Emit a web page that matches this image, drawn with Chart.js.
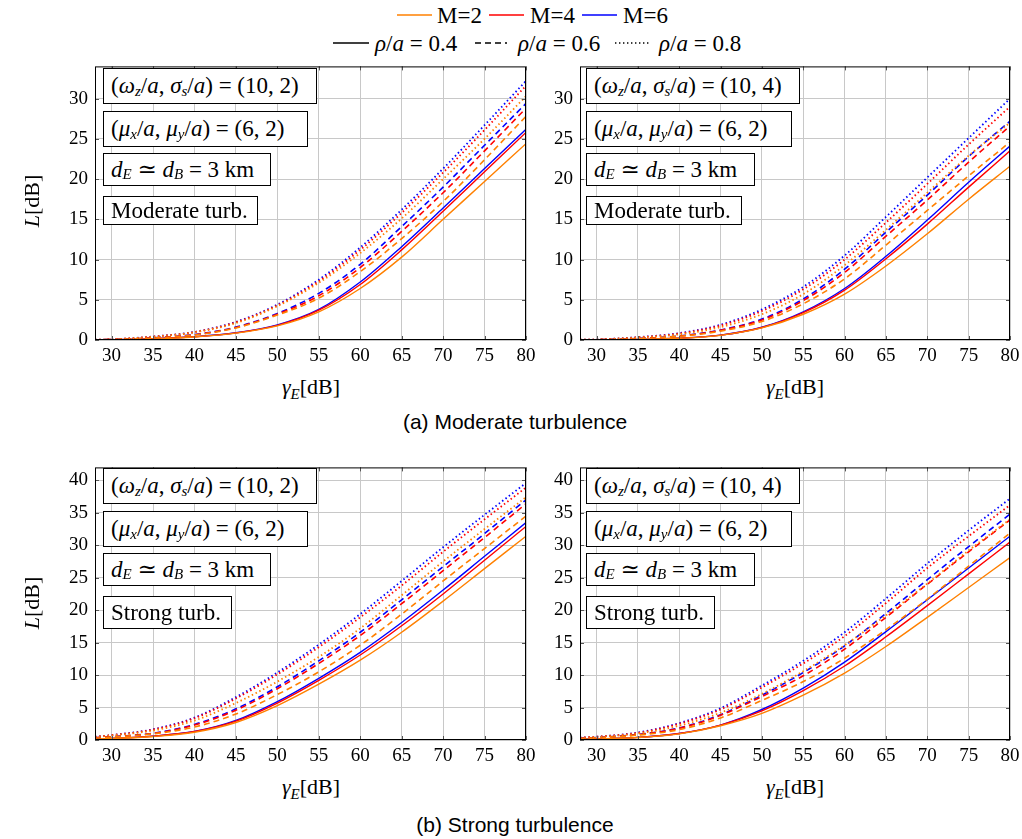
<!DOCTYPE html>
<html>
<head>
<meta charset="utf-8">
<script src="https://cdn.jsdelivr.net/npm/chart.js@4.4.0/dist/chart.umd.min.js"></script>
<style>
  body { margin: 0; width: 1022px; height: 839px; position: relative; background: #fff; overflow: hidden;
         font-family: 'Liberation Serif', 'DejaVu Serif', serif; color: #000; }
  canvas { position: absolute; }
  .abs { position: absolute; white-space: nowrap; }
  .box { position: absolute; border: 1px solid #000; background: #fff; box-sizing: border-box;
         font-size: 23px; display: flex; align-items: center; padding-left: 7px; white-space: nowrap; }
  .s { font-size: 15px; position: relative; top: 5px; font-style: italic; }
  .lg { font-size: 23px; line-height: 1; }
  .ytitle { position: absolute; font-size: 22px; transform: rotate(-90deg); transform-origin: center; white-space: nowrap; }
  .xtitle { position: absolute; font-size: 22px; white-space: nowrap; transform: translateX(-50%); }
  .cap { position: absolute; font-family: 'Liberation Sans', Arial, sans-serif; font-size: 21px; transform: translateX(-50%); white-space: nowrap; }
</style>
</head>
<body>

<!-- legend -->
<svg class="abs" style="left:0;top:0" width="1022" height="60">
  <line x1="397" y1="15" x2="432" y2="15" stroke="rgb(255,128,0)" stroke-width="1.4"/>
  <line x1="489" y1="15" x2="524" y2="15" stroke="rgb(255,0,0)" stroke-width="1.4"/>
  <line x1="582" y1="15" x2="617" y2="15" stroke="rgb(0,0,255)" stroke-width="1.4"/>
  <line x1="333" y1="43" x2="369" y2="43" stroke="#000" stroke-width="1.4"/>
  <line x1="475" y1="43" x2="507" y2="43" stroke="#000" stroke-width="1.6" stroke-dasharray="6,4"/>
  <line x1="615" y1="43" x2="650" y2="43" stroke="#000" stroke-width="1.6" stroke-dasharray="1.4,2.6"/>
</svg>
<div class="abs lg" style="left:437px;top:4px">M=2</div>
<div class="abs lg" style="left:530px;top:4px">M=4</div>
<div class="abs lg" style="left:623px;top:4px">M=6</div>
<div class="abs lg" style="left:375px;top:32px"><i>ρ</i>/<i>a</i>&nbsp;=&nbsp;0.4</div>
<div class="abs lg" style="left:518px;top:32px"><i>ρ</i>/<i>a</i>&nbsp;=&nbsp;0.6</div>
<div class="abs lg" style="left:659px;top:32px"><i>ρ</i>/<i>a</i>&nbsp;=&nbsp;0.8</div>

<canvas id="c1" width="501" height="322" style="left:40px;top:48px"></canvas>
<canvas id="c2" width="500" height="322" style="left:525px;top:48px"></canvas>
<canvas id="c3" width="501" height="321" style="left:40px;top:449px"></canvas>
<canvas id="c4" width="500" height="321" style="left:525px;top:449px"></canvas>

<!-- axis titles -->
<div class="ytitle" style="left:6px;top:188px"><i>L</i>[dB]</div>
<div class="ytitle" style="left:6px;top:590px"><i>L</i>[dB]</div>
<div class="xtitle" style="left:311px;top:374px"><i>γ</i><span class="s">E</span>[dB]</div>
<div class="xtitle" style="left:795px;top:374px"><i>γ</i><span class="s">E</span>[dB]</div>
<div class="xtitle" style="left:311px;top:774px"><i>γ</i><span class="s">E</span>[dB]</div>
<div class="xtitle" style="left:795px;top:774px"><i>γ</i><span class="s">E</span>[dB]</div>
<div class="cap" style="left:515px;top:410px">(a) Moderate turbulence</div>
<div class="cap" style="left:515px;top:813px">(b) Strong turbulence</div>

<!-- panel annotation boxes -->
<div class="box" style="left:103px;top:68px;width:214px;height:36px">(<i>ω</i><span class="s">z</span>/<i>a</i>,&nbsp;<i>σ</i><span class="s">s</span>/<i>a</i>)&nbsp;=&nbsp;(10,&nbsp;2)</div>
<div class="box" style="left:103px;top:111px;width:205px;height:36px">(<i>μ</i><span class="s">x</span>/<i>a</i>,&nbsp;<i>μ</i><span class="s">y</span>/<i>a</i>)&nbsp;=&nbsp;(6,&nbsp;2)</div>
<div class="box" style="left:103px;top:153px;width:168px;height:33px"><i>d</i><span class="s">E</span>&nbsp;≃&nbsp;<i>d</i><span class="s">B</span>&nbsp;=&nbsp;3&nbsp;km</div>
<div class="box" style="left:103px;top:196px;width:155px;height:29px">Moderate turb.</div>

<div class="box" style="left:586px;top:68px;width:214px;height:36px">(<i>ω</i><span class="s">z</span>/<i>a</i>,&nbsp;<i>σ</i><span class="s">s</span>/<i>a</i>)&nbsp;=&nbsp;(10,&nbsp;4)</div>
<div class="box" style="left:586px;top:111px;width:206px;height:36px">(<i>μ</i><span class="s">x</span>/<i>a</i>,&nbsp;<i>μ</i><span class="s">y</span>/<i>a</i>)&nbsp;=&nbsp;(6,&nbsp;2)</div>
<div class="box" style="left:586px;top:153px;width:169px;height:33px"><i>d</i><span class="s">E</span>&nbsp;≃&nbsp;<i>d</i><span class="s">B</span>&nbsp;=&nbsp;3&nbsp;km</div>
<div class="box" style="left:586px;top:196px;width:156px;height:29px">Moderate turb.</div>

<div class="box" style="left:103px;top:468px;width:214px;height:36px">(<i>ω</i><span class="s">z</span>/<i>a</i>,&nbsp;<i>σ</i><span class="s">s</span>/<i>a</i>)&nbsp;=&nbsp;(10,&nbsp;2)</div>
<div class="box" style="left:103px;top:511px;width:205px;height:36px">(<i>μ</i><span class="s">x</span>/<i>a</i>,&nbsp;<i>μ</i><span class="s">y</span>/<i>a</i>)&nbsp;=&nbsp;(6,&nbsp;2)</div>
<div class="box" style="left:103px;top:553px;width:168px;height:33px"><i>d</i><span class="s">E</span>&nbsp;≃&nbsp;<i>d</i><span class="s">B</span>&nbsp;=&nbsp;3&nbsp;km</div>
<div class="box" style="left:103px;top:596px;width:129px;height:33px">Strong turb.</div>

<div class="box" style="left:586px;top:468px;width:214px;height:36px">(<i>ω</i><span class="s">z</span>/<i>a</i>,&nbsp;<i>σ</i><span class="s">s</span>/<i>a</i>)&nbsp;=&nbsp;(10,&nbsp;4)</div>
<div class="box" style="left:586px;top:511px;width:206px;height:36px">(<i>μ</i><span class="s">x</span>/<i>a</i>,&nbsp;<i>μ</i><span class="s">y</span>/<i>a</i>)&nbsp;=&nbsp;(6,&nbsp;2)</div>
<div class="box" style="left:586px;top:553px;width:169px;height:33px"><i>d</i><span class="s">E</span>&nbsp;≃&nbsp;<i>d</i><span class="s">B</span>&nbsp;=&nbsp;3&nbsp;km</div>
<div class="box" style="left:586px;top:596px;width:129px;height:33px">Strong turb.</div>

<script>
// --- data (L in dB vs gamma_E in dB) ---
const gammaE = [28, 30, 35, 40, 45, 50, 55, 60, 65, 70, 75, 80];
const xTicks = [30, 35, 40, 45, 50, 55, 60, 65, 70, 75, 80];
const yTicksTop = [0, 5, 10, 15, 20, 25, 30];
const yTicksBottom = [0, 5, 10, 15, 20, 25, 30, 35, 40];

// (a) moderate turbulence, (wz/a, ss/a) = (10, 2)
const modA_M2_r04 = [0.02, 0.04, 0.14, 0.38, 0.85, 1.75, 3.5, 6.4, 10.3, 15.0, 19.7, 24.4];
const modA_M4_r04 = [0.02, 0.04, 0.15, 0.40, 0.88, 1.82, 3.7, 6.9, 11.2, 16.0, 20.9, 25.8];
const modA_M6_r04 = [0.02, 0.04, 0.15, 0.41, 0.90, 1.88, 3.8, 7.2, 11.6, 16.4, 21.3, 26.2];
const modA_M2_r06 = [0.03, 0.06, 0.24, 0.62, 1.50, 3.10, 5.2, 8.5, 12.6, 17.2, 22.4, 27.8];
const modA_M4_r06 = [0.03, 0.06, 0.26, 0.65, 1.55, 3.20, 5.5, 9.0, 13.5, 18.3, 23.5, 28.8];
const modA_M6_r06 = [0.03, 0.06, 0.27, 0.68, 1.60, 3.30, 5.8, 9.4, 14.1, 19.0, 24.2, 29.4];
const modA_M2_r08 = [0.04, 0.08, 0.40, 0.95, 2.10, 4.20, 7.1, 10.8, 15.1, 20.0, 25.0, 30.3];
const modA_M4_r08 = [0.04, 0.08, 0.42, 0.98, 2.20, 4.30, 7.3, 11.2, 15.8, 20.8, 26.1, 31.6];
const modA_M6_r08 = [0.04, 0.08, 0.43, 1.00, 2.25, 4.40, 7.5, 11.5, 16.2, 21.3, 26.7, 32.2];

// (a) moderate turbulence, (wz/a, ss/a) = (10, 4)
const modB_M2_r04 = [0.01, 0.02, 0.07, 0.21, 0.58, 1.50, 3.2, 5.7, 9.2, 13.2, 17.5, 21.6];
const modB_M4_r04 = [0.01, 0.02, 0.07, 0.22, 0.60, 1.55, 3.4, 6.2, 10.1, 14.4, 19.0, 23.5];
const modB_M6_r04 = [0.01, 0.02, 0.07, 0.22, 0.60, 1.58, 3.5, 6.4, 10.4, 14.9, 19.6, 24.1];
const modB_M2_r06 = [0.02, 0.04, 0.16, 0.45, 1.10, 2.30, 4.5, 7.6, 11.8, 16.1, 20.4, 24.6];
const modB_M4_r06 = [0.02, 0.04, 0.17, 0.48, 1.20, 2.50, 4.9, 8.4, 12.9, 17.4, 22.1, 26.6];
const modB_M6_r06 = [0.02, 0.04, 0.18, 0.50, 1.25, 2.60, 5.1, 8.8, 13.4, 18.0, 22.8, 27.2];
const modB_M2_r08 = [0.03, 0.05, 0.30, 0.70, 1.60, 3.20, 5.7, 9.3, 13.7, 18.3, 22.9, 27.0];
const modB_M4_r08 = [0.03, 0.06, 0.33, 0.80, 1.80, 3.60, 6.3, 10.0, 14.6, 19.4, 24.3, 29.0];
const modB_M6_r08 = [0.03, 0.06, 0.35, 0.85, 1.90, 3.80, 6.6, 10.5, 15.3, 20.2, 25.1, 30.0];

// (b) strong turbulence, (wz/a, ss/a) = (10, 2)
const strA_M2_r04 = [0.17, 0.24, 0.55, 1.20, 2.7, 5.3, 8.6, 12.3, 16.6, 21.4, 26.4, 31.4];
const strA_M4_r04 = [0.18, 0.25, 0.58, 1.30, 2.9, 5.7, 9.2, 13.1, 17.6, 22.5, 27.7, 32.9];
const strA_M6_r04 = [0.18, 0.25, 0.60, 1.30, 3.0, 5.9, 9.5, 13.5, 18.1, 23.1, 28.3, 33.5];
const strA_M2_r06 = [0.30, 0.45, 0.95, 2.00, 4.0, 7.0, 10.5, 14.6, 19.4, 24.5, 29.5, 34.5];
const strA_M4_r06 = [0.35, 0.50, 1.00, 2.30, 4.6, 7.9, 11.8, 16.1, 21.0, 26.1, 31.2, 36.4];
const strA_M6_r06 = [0.35, 0.50, 1.05, 2.40, 4.8, 8.2, 12.2, 16.6, 21.6, 26.7, 31.8, 37.0];
const strA_M2_r08 = [0.45, 0.70, 1.45, 3.00, 5.7, 9.0, 12.8, 17.2, 22.3, 27.5, 32.5, 37.4];
const strA_M4_r08 = [0.50, 0.75, 1.60, 3.35, 6.4, 10.1, 14.3, 18.9, 23.8, 29.0, 34.0, 38.9];
const strA_M6_r08 = [0.50, 0.75, 1.65, 3.45, 6.6, 10.4, 14.7, 19.4, 24.5, 29.7, 34.7, 39.6];

// (b) strong turbulence, (wz/a, ss/a) = (10, 4)
const strB_M2_r04 = [0.10, 0.14, 0.38, 0.95, 2.2, 4.1, 6.9, 10.3, 14.4, 18.9, 23.5, 28.1];
const strB_M4_r04 = [0.10, 0.15, 0.40, 1.00, 2.3, 4.5, 7.6, 11.4, 15.9, 20.7, 25.6, 30.5];
const strB_M6_r04 = [0.10, 0.15, 0.40, 1.00, 2.3, 4.7, 8.0, 12.0, 16.7, 21.6, 26.5, 31.4];
const strB_M2_r06 = [0.22, 0.33, 0.75, 1.60, 3.4, 6.1, 9.0, 12.6, 17.0, 21.7, 26.8, 31.9];
const strB_M4_r06 = [0.25, 0.36, 0.82, 1.80, 3.8, 6.7, 9.9, 14.0, 18.9, 24.0, 29.0, 33.9];
const strB_M6_r06 = [0.25, 0.37, 0.85, 1.85, 3.9, 6.9, 10.4, 14.5, 19.5, 24.7, 29.8, 34.8];
const strB_M2_r08 = [0.30, 0.45, 1.00, 2.20, 4.2, 7.1, 10.6, 14.6, 19.2, 24.1, 29.2, 34.0];
const strB_M4_r08 = [0.35, 0.50, 1.10, 2.50, 4.7, 8.1, 11.8, 16.0, 21.1, 26.5, 31.4, 36.2];
const strB_M6_r08 = [0.35, 0.50, 1.15, 2.60, 4.9, 8.4, 12.2, 16.6, 21.8, 27.2, 32.3, 37.2];

// --- styles ---
const COLORS = { 2: 'rgb(255,128,0)', 4: 'rgb(255,0,0)', 6: 'rgb(0,0,255)' };
const DASHES = { '0.4': [], '0.6': [6, 4], '0.8': [1.5, 2.7] };
const WIDTHS = { '0.4': 1.4, '0.6': 1.6, '0.8': 1.8 };
const SERIF = "'Liberation Serif', 'DejaVu Serif', serif";

Chart.defaults.font.family = SERIF;
Chart.defaults.font.size = 19;
Chart.defaults.color = '#000';

function series(M, rho, vals) {
    return {
        label: `M=${M}, ρ/a=${rho}`,
        data: gammaE.map((g, i) => ({ x: g, y: vals[i] })),
        borderColor: COLORS[M],
        borderDash: DASHES[rho],
        borderWidth: WIDTHS[rho],
        pointRadius: 0,
        fill: false,
        cubicInterpolationMode: 'monotone'
    };
}

// frame + inward tick marks, like pgfplots
const framePlugin = {
    id: 'frame',
    afterDraw(chart) {
        const { ctx, chartArea: a, scales } = chart;
        ctx.save();
        ctx.strokeStyle = '#555';
        ctx.lineWidth = 1;
        ctx.beginPath();
        scales.x.ticks.forEach(t => {
            const px = Math.round(scales.x.getPixelForValue(t.value)) + 0.5;
            ctx.moveTo(px, a.bottom); ctx.lineTo(px, a.bottom - 4);
            ctx.moveTo(px, a.top); ctx.lineTo(px, a.top + 4);
        });
        scales.y.ticks.forEach(t => {
            const py = Math.round(scales.y.getPixelForValue(t.value)) + 0.5;
            ctx.moveTo(a.left, py); ctx.lineTo(a.left + 4, py);
            ctx.moveTo(a.right, py); ctx.lineTo(a.right - 4, py);
        });
        ctx.stroke();
        ctx.strokeStyle = '#000';
        ctx.strokeRect(a.left + 0.5, a.top + 0.5, a.width - 1, a.height - 1);
        ctx.restore();
    }
};

function makePanel(id, datasets, yMax, yTicks) {
    const ctx = document.getElementById(id).getContext('2d');
    return new Chart(ctx, {
        type: 'line',
        data: { datasets },
        options: {
            responsive: false,
            animation: false,
            devicePixelRatio: 1,
            layout: { padding: { left: 0, right: 15, top: 15, bottom: 0 } },
            plugins: { legend: { display: false }, tooltip: { enabled: false } },
            scales: {
                x: {
                    type: 'linear', min: 28, max: 80,
                    afterBuildTicks: s => { s.ticks = xTicks.map(v => ({ value: v })); },
                    afterFit: s => { s.height = 30; },
                    grid: { color: '#c8c8c8', lineWidth: 1, drawTicks: false },
                    border: { display: false },
                    ticks: { color: '#000', padding: 5, maxRotation: 0, font: { family: SERIF, size: 19 } }
                },
                y: {
                    type: 'linear', min: 0, max: yMax,
                    afterBuildTicks: s => { s.ticks = yTicks.map(v => ({ value: v })); },
                    afterFit: s => { s.width = 55; },
                    grid: { color: '#c8c8c8', lineWidth: 1, drawTicks: false },
                    border: { display: false },
                    ticks: { color: '#000', padding: 7, font: { family: SERIF, size: 19 } }
                }
            }
        },
        plugins: [framePlugin]
    });
}

function drawAll() {
    makePanel('c1', [
        series(2, '0.8', modA_M2_r08), series(4, '0.8', modA_M4_r08), series(6, '0.8', modA_M6_r08),
        series(2, '0.6', modA_M2_r06), series(4, '0.6', modA_M4_r06), series(6, '0.6', modA_M6_r06),
        series(2, '0.4', modA_M2_r04), series(4, '0.4', modA_M4_r04), series(6, '0.4', modA_M6_r04)
    ], 34, yTicksTop);

    makePanel('c2', [
        series(2, '0.8', modB_M2_r08), series(4, '0.8', modB_M4_r08), series(6, '0.8', modB_M6_r08),
        series(2, '0.6', modB_M2_r06), series(4, '0.6', modB_M4_r06), series(6, '0.6', modB_M6_r06),
        series(2, '0.4', modB_M2_r04), series(4, '0.4', modB_M4_r04), series(6, '0.4', modB_M6_r04)
    ], 34, yTicksTop);

    makePanel('c3', [
        series(2, '0.8', strA_M2_r08), series(4, '0.8', strA_M4_r08), series(6, '0.8', strA_M6_r08),
        series(2, '0.6', strA_M2_r06), series(4, '0.6', strA_M4_r06), series(6, '0.6', strA_M6_r06),
        series(2, '0.4', strA_M2_r04), series(4, '0.4', strA_M4_r04), series(6, '0.4', strA_M6_r04)
    ], 42, yTicksBottom);

    makePanel('c4', [
        series(2, '0.8', strB_M2_r08), series(4, '0.8', strB_M4_r08), series(6, '0.8', strB_M6_r08),
        series(2, '0.6', strB_M2_r06), series(4, '0.6', strB_M4_r06), series(6, '0.6', strB_M6_r06),
        series(2, '0.4', strB_M2_r04), series(4, '0.4', strB_M4_r04), series(6, '0.4', strB_M6_r04)
    ], 42, yTicksBottom);
}

// make sure the serif face is ready before the canvases draw their tick labels
if (document.fonts && document.fonts.load) {
    document.fonts.load('19px "Liberation Serif"').then(drawAll, drawAll);
} else {
    document.addEventListener('DOMContentLoaded', drawAll);
}
</script>
</body>
</html>
